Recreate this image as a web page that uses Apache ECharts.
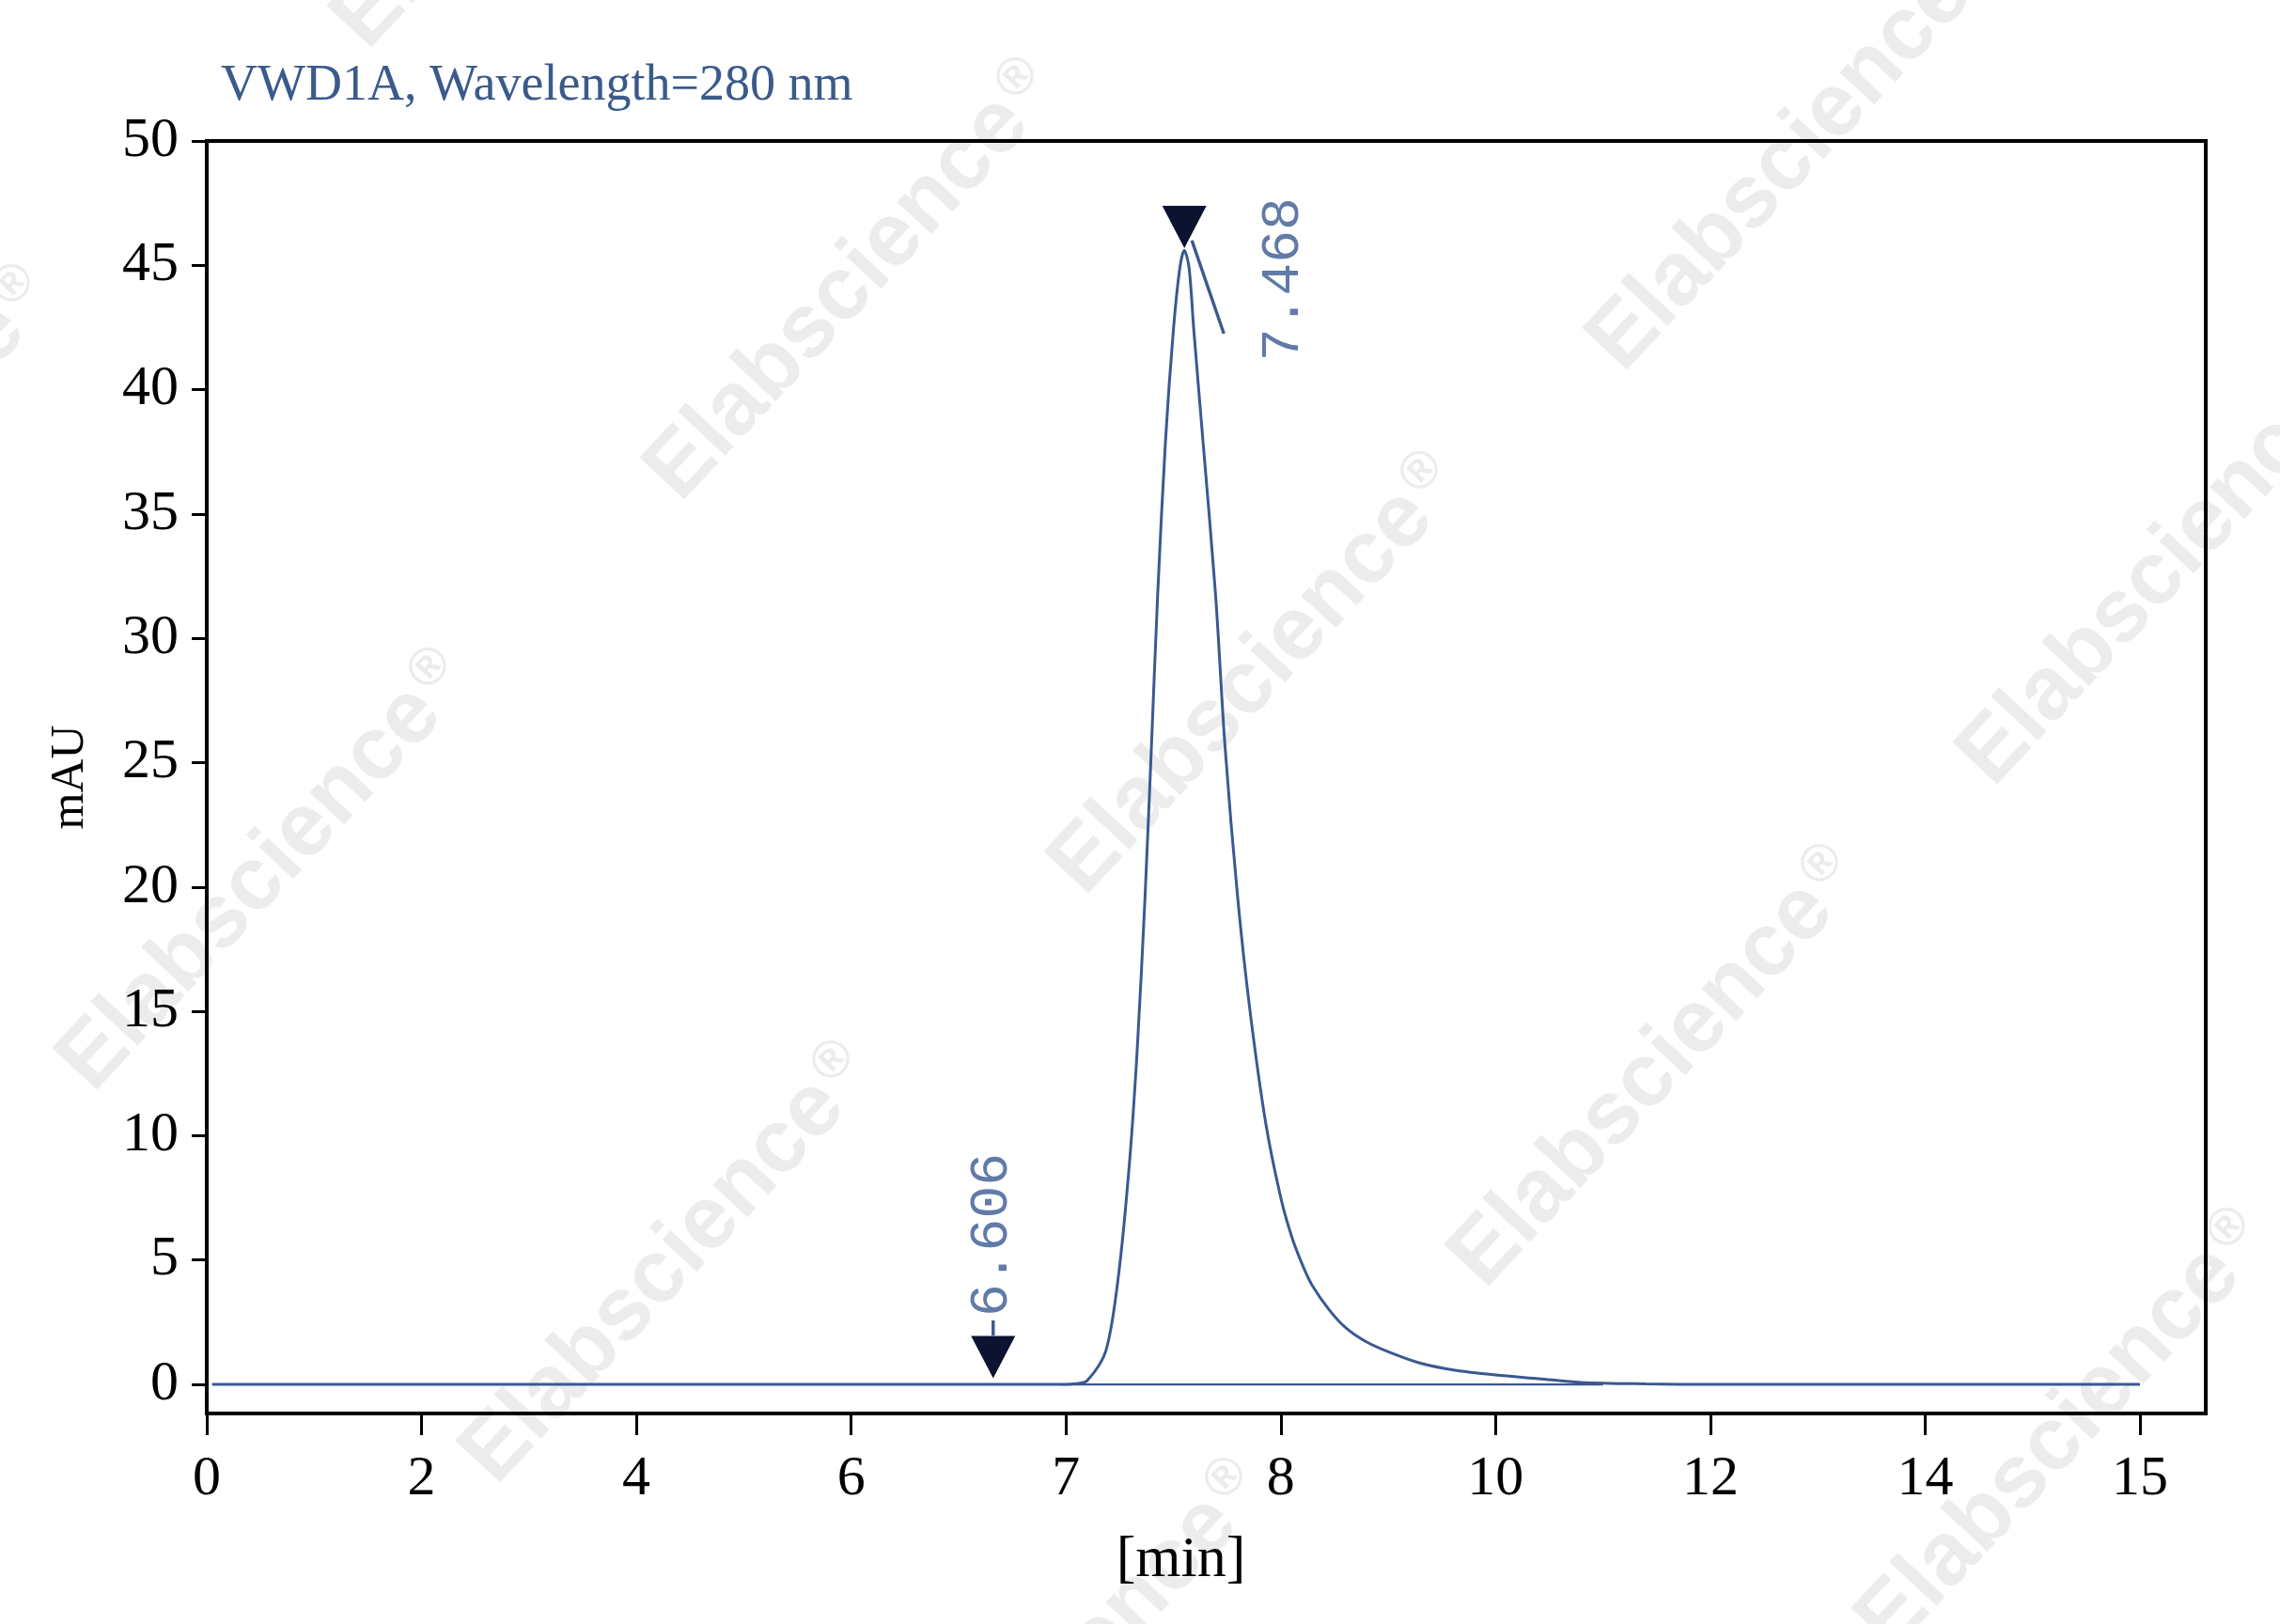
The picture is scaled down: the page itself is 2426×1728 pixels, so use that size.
<!DOCTYPE html>
<html>
<head>
<meta charset="utf-8">
<script src="https://cdn.jsdelivr.net/npm/echarts@6/dist/echarts.min.js"></script>
<style>html,body{margin:0;padding:0;background:#fff;}#chart{width:2426px;height:1728px;}</style>
</head>
<body>
<div id="chart"></div>
<script>
// ---- data ----
const chartTitle = 'VWD1A, Wavelength=280 nm';
const xAxisName = '[min]';
const yAxisName = 'mAU';
// x tick labels (evenly spaced on the original axis)
const xTickLabels = [0, 2, 4, 6, 7, 8, 10, 12, 14, 15];
const yTickValues = [0, 5, 10, 15, 20, 25, 30, 35, 40, 45, 50];

// chromatogram trace: retention time (min) and absorbance (mAU)
const traceTime  = [0.05, 3.0, 6.0, 6.98, 7.05, 7.099, 7.186, 7.245, 7.296, 7.332, 7.368, 7.398, 7.427, 7.463, 7.500, 7.530, 7.551, 7.573, 7.595, 7.638, 7.696, 7.740, 7.799, 7.857, 7.930, 8.003, 8.105, 8.21, 8.29, 8.45, 8.606, 8.8, 9.035, 9.3, 9.622, 10.0, 10.40, 10.79, 11.4, 12.0, 15.0];
const traceValue = [0.0, 0.0, 0.0, 0.0, 0.03, 0.15, 1.36, 4.42, 8.96, 13.53, 19.6, 25.7, 31.8, 37.9, 42.4, 44.9, 45.6, 44.9, 42.4, 37.9, 31.8, 25.7, 19.6, 15.0, 10.5, 7.45, 5.9, 4.72, 4.0, 3.0, 2.27, 1.7, 1.25, 0.85, 0.57, 0.38, 0.23, 0.08, 0.02, 0.0, 0.0];

// integration baseline
const baselineTime  = [6.98, 11.0];
const baselineValue = [0.0, 0.0];

// peak markers (triangles)
const markerTime  = [7.551, 6.661];
const markerValue = [45.6, 0.0];
const markerLift  = [-25, -29];

// peak labels (retention times), anchored at label centres
const peakLabelText  = ['7.468', '6.606'];
const peakLabelTime  = [8.028, 6.654];
const peakLabelValue = [44.44, 6.01];

// short tick lines attached to markers
const peakTangentTime  = [7.586, 7.735];
const peakTangentValue = [46.0, 42.25];
const leaderTime  = [6.661, 6.661];
const leaderValue = [1.97, 2.57];

// watermark centres (pixel)
const watermarkText = 'Elabscience';
const watermarkPos = [[908, 300], [1338, 719], [1764, 1137], [2197, 1524], [1911, 162], [2305, 603], [283, 928], [712, 1346], [-160, 520], [575, -181], [1130, 1790]];

// ---- mapping of minutes to the evenly spaced axis positions ----
function toPos(t) {
  for (let i = 0; i < xTickLabels.length - 1; i++) {
    const a = xTickLabels[i], b = xTickLabels[i + 1];
    if (t <= b || i === xTickLabels.length - 2) return i + (t - a) / (b - a);
  }
}
const pair = (ts, vs) => ts.map((t, i) => [toPos(t), vs[i]]);

const blue = '#3a5990';
const serif = "'Liberation Serif', 'Times New Roman', serif";
const mono = "'Liberation Mono', 'DejaVu Sans Mono', monospace";

const chart = echarts.init(document.getElementById('chart'), null, {renderer: 'canvas'});
chart.setOption({
  backgroundColor: '#ffffff',
  animation: false,
  title: {
    text: chartTitle, left: 230, top: 60,
    textStyle: {fontFamily: serif, fontSize: 54, fontWeight: 'normal', color: '#3a5a8c'}
  },
  graphic: watermarkPos.map(p => ({
    type: 'text', x: p[0], y: p[1], rotation: 0.82, z: -10, silent: true,
    style: {
      text: watermarkText + '{r|®}', fill: '#ececec',
      font: 'bold 95px "Liberation Sans", Arial, sans-serif', align: 'center', verticalAlign: 'middle',
      rich: {r: {fontSize: 56, fontWeight: 'bold', fontFamily: '"Liberation Sans", Arial, sans-serif', fill: '#ececec', verticalAlign: 'top', padding: [0, 0, 40, 6]}}
    }
  })),
  grid: {left: 220, right: 79, top: 150, bottom: 224, show: true, borderColor: '#000', borderWidth: 4, backgroundColor: 'transparent'},
  xAxis: {
    type: 'value', min: 0, max: 9.306,
    name: xAxisName, nameLocation: 'middle', nameGap: 126,
    nameTextStyle: {fontFamily: serif, fontSize: 62, color: '#000', padding: [0, 54, 0, 0]},
    axisLine: {show: true, onZero: false, lineStyle: {color: '#000', width: 4}},
    axisTick: {show: true, length: 23, customValues: xTickLabels.map((v, i) => i), lineStyle: {color: '#000', width: 3}},
    axisLabel: {show: true, margin: 40, customValues: xTickLabels.map((v, i) => i),
      formatter: v => String(xTickLabels[Math.round(v)]),
      fontFamily: serif, fontSize: 60, color: '#000'},
    splitLine: {show: false}
  },
  yAxis: {
    type: 'value', min: -1.17, max: 50,
    name: yAxisName, nameLocation: 'middle', nameGap: 120, nameRotate: 90,
    nameTextStyle: {fontFamily: serif, fontSize: 50, color: '#000'},
    axisLine: {show: true, onZero: false, lineStyle: {color: '#000', width: 4}},
    axisTick: {show: true, length: 16, customValues: yTickValues, lineStyle: {color: '#000', width: 3}},
    axisLabel: {show: true, margin: 30, customValues: yTickValues, fontFamily: serif, fontSize: 60, color: '#000'},
    splitLine: {show: false}
  },
  series: [
    {
      type: 'line', name: 'baseline', data: pair(baselineTime, baselineValue),
      showSymbol: false, lineStyle: {color: blue, width: 2.2}, z: 3
    },
    {
      type: 'line', name: 'VWD1A', data: pair(traceTime, traceValue),
      showSymbol: false, smooth: 0.3,
      lineStyle: {color: blue, width: 3}, z: 4
    },
    {
      type: 'line', name: 'tangent', data: pair(peakTangentTime, peakTangentValue),
      showSymbol: false, lineStyle: {color: blue, width: 3.4}, z: 4
    },
    {
      type: 'line', name: 'leader', data: pair(leaderTime, leaderValue),
      showSymbol: false, lineStyle: {color: blue, width: 3.4}, z: 4
    },
    {
      type: 'scatter', name: 'markers',
      data: markerTime.map((t, i) => ({value: [toPos(t), markerValue[i]], symbolOffset: [0, markerLift[i]]})),
      symbol: 'triangle', symbolRotate: 180, symbolSize: [47, 45],
      itemStyle: {color: '#0c1330', opacity: 1}, z: 5
    },
    {
      type: 'scatter', name: 'labels',
      data: peakLabelTime.map((t, i) => ({value: [toPos(t), peakLabelValue[i]], name: peakLabelText[i]})),
      symbol: 'circle', symbolSize: 1, itemStyle: {color: 'rgba(0,0,0,0)'},
      label: {show: true, position: 'inside', rotate: 90, formatter: p => p.name,
        fontFamily: mono, fontSize: 58, color: '#385a92', align: 'center', verticalAlign: 'middle'},
      labelLayout: {hideOverlap: false},
      z: 5
    }
  ]
});
</script>
</body>
</html>
